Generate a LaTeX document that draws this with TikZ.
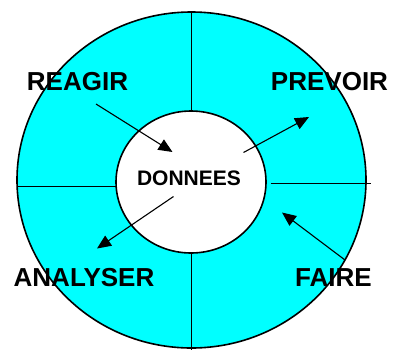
\documentclass[tikz,border=0pt]{standalone}
\usepackage{fontspec}
\setmainfont{Liberation Sans}
\usetikzlibrary{arrows.meta}
\definecolor{aqua}{RGB}{0,255,255}
\begin{document}
\begin{tikzpicture}[x=1pt,y=-1pt,
  divider/.style={line width=1pt},
  ring/.style={line width=1.6pt},
  arr/.style={line width=1.1pt,-{Triangle[length=14pt,width=12pt]}},
  lab/.style={font=\bfseries\fontsize{26}{26}\selectfont,inner sep=0pt},
  core/.style={font=\bfseries\fontsize{21}{21}\selectfont,inner sep=0pt}]
\useasboundingbox (0,0) rectangle (393,349);
% outer ring
\fill[aqua] (191.5,180) ellipse [x radius=174.5, y radius=168];
\draw[divider] (17,186) -- (116,186);
\draw[divider] (270.5,183.7) -- (370.5,183.7);
\draw[divider] (191,12) -- (191,111);
\draw[divider] (191,253) -- (191,352);
\draw[ring] (191.5,180) ellipse [x radius=174.5, y radius=168];
% inner disc
\draw[ring,fill=white] (191,182) ellipse [x radius=75, y radius=71];
% labels
\node[core] (don) at (189,178) {DONNEES};
\node[lab] (rea) at (77.5,81.5) {REAGIR};
\node[lab] (pre) at (329.5,81.5) {PREVOIR};
\node[lab] (ana) at (84,278) {ANALYSER};
\node[lab] (fai) at (333.5,278) {FAIRE};
% arrow ends
\coordinate (a1s) at (96,104);
\coordinate (a1e) at (172.5,152);
\coordinate (a2s) at (243.5,152.5);
\coordinate (a2e) at (309,117);
\coordinate (a3s) at (173.5,196.5);
\coordinate (a3e) at (97,248.5);
\coordinate (a4s) at (345,260);
\coordinate (a4e) at (282,212.5);
\draw[arr] (a1s) -- (a1e);
\draw[arr] (a2s) -- (a2e);
\draw[arr] (a3s) -- (a3e);
\draw[arr] (a4s) -- (a4e);
\end{tikzpicture}
\end{document}
